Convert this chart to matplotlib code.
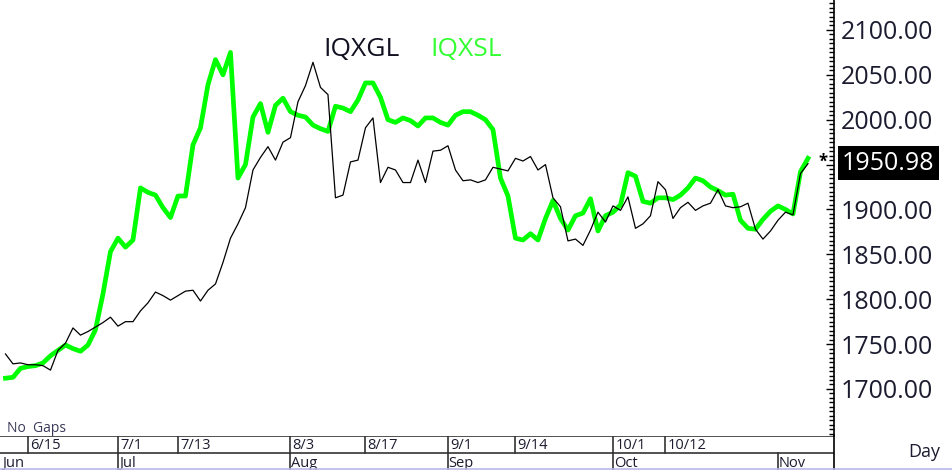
import numpy as np
import pandas as pd
import matplotlib
matplotlib.use("Agg")
import matplotlib.pyplot as plt
from matplotlib.ticker import MultipleLocator, FuncFormatter
from matplotlib.patches import Rectangle

# weekday index, no gaps
dates = pd.bdate_range("2020-06-10", "2020-11-06")

iqxgl = [1739, 1728, 1729, 1727, 1727, 1726, 1721, 1743, 1751, 1768,
         1760, 1764, 1769, 1774, 1780, 1770, 1775, 1775, 1787, 1796,
         1808, 1804, 1799, 1804, 1809, 1810, 1798, 1810, 1817, 1841,
         1868, 1884, 1902, 1944, 1958, 1970, 1955, 1975, 1980, 2020,
         2038, 2064, 2036, 2028, 1913, 1916, 1953, 1955, 1991, 2002,
         1930, 1947, 1944, 1930, 1930, 1955, 1930, 1965, 1966, 1971,
         1944, 1932, 1933, 1930, 1933, 1947, 1945, 1943, 1957, 1954,
         1959, 1944, 1950, 1913, 1903, 1865, 1867, 1860, 1877, 1897,
         1886, 1904, 1899, 1914, 1879, 1884, 1893, 1931, 1922, 1890,
         1902, 1908, 1899, 1904, 1907, 1922, 1904, 1902, 1903, 1907,
         1878, 1867, 1876, 1888, 1897, 1894, 1940, 1950.98]

iqxsl = [1712, 1713, 1723, 1725, 1726, 1729, 1737, 1743, 1749, 1745,
         1742, 1749, 1766, 1806, 1853, 1868, 1858, 1866, 1924, 1919,
         1916, 1902, 1891, 1915, 1915, 1972, 1991, 2039, 2067, 2050,
         2075, 1935, 1950, 2003, 2018, 1986, 2016, 2024, 2009, 2005,
         2003, 1994, 1990, 1987, 2015, 2013, 2009, 2022, 2041, 2041,
         2025, 2000, 1997, 2002, 1999, 1993, 2002, 2002, 1997, 1994,
         2005, 2009, 2009, 2005, 2000, 1989, 1935, 1915, 1868, 1866,
         1873, 1866, 1890, 1910, 1890, 1877, 1893, 1896, 1912, 1876,
         1893, 1897, 1905, 1941, 1937, 1909, 1907, 1913, 1913, 1911,
         1916, 1924, 1935, 1932, 1925, 1921, 1916, 1917, 1888, 1879,
         1878, 1889, 1898, 1904, 1900, 1895, 1942, 1957]

day_labels = ["6/15", "7/1", "7/13", "8/3", "8/17", "9/1", "9/14", "10/1", "10/12"]
month_labels = ["Jun", "Jul", "Aug", "Sep", "Oct", "Nov"]
y_ticks = [1700, 1750, 1800, 1850, 1900, 1950, 2000, 2050, 2100]

plt.rcParams["font.family"] = ["Open Sans", "DejaVu Sans"]
txt_col = "#1c1c30"

W, H = 953, 470
fig = plt.figure(figsize=(W / 100, H / 100), dpi=100)
fig.patch.set_facecolor("white")

ax_r = 834 / W
ax = fig.add_axes([0, 34 / H, ax_r, 436 / H])
x = np.arange(len(dates))
ax.plot(x, iqxsl, color="#00ff00", lw=3.4, solid_joinstyle="round", zorder=2)
ax.plot(x, iqxgl, color="black", lw=0.9, zorder=3)
ax.set_xlim(-0.73, 110.47)
ax.set_ylim(1647.6, 2133.4)

for s in ["left", "top", "bottom"]:
    ax.spines[s].set_visible(False)
ax.spines["right"].set_linewidth(1.2)
ax.set_xticks([])
ax.yaxis.tick_right()
ax.set_yticks(y_ticks)
ax.yaxis.set_minor_locator(MultipleLocator(5))
ax.yaxis.set_major_formatter(FuncFormatter(lambda v, p: "" if v == 1950 else f"{v:.2f}"))
ax.tick_params(axis="y", which="major", direction="in", length=6, width=1,
               labelsize=18, pad=5, labelcolor=txt_col)
ax.tick_params(axis="y", which="minor", direction="in", length=3.5, width=1)

# last value
last = iqxgl[-1]
ax.text(len(dates) + 1, last + 2, "*", fontsize=12, fontweight="bold",
        color="black", ha="center", va="center")
ly = 1 - 163 / H
fig.patches.append(Rectangle((838 / W, 1 - 180 / H), 101 / W, 34 / H,
                             transform=fig.transFigure, facecolor="black",
                             edgecolor="none", zorder=5))
fig.text(842 / W, ly, f"{last:.2f}", color="white", fontsize=18, va="center",
         ha="left", zorder=6)

# legend
fig.text(323 / W, 1 - 56 / H, "IQXGL", fontsize=19, color="#111122", va="baseline")
fig.text(430 / W, 1 - 56 / H, "IQXSL", fontsize=19, color="#33ff33", va="baseline")

fig.text(7 / W, 1 - 432 / H, "No  Gaps", fontsize=10, color="#3a3a5a", va="baseline")
fig.text(924 / W, 1 - 452 / H, "Day", fontsize=13, color=txt_col, ha="center", va="center")

# date axis below the plot
dx = fig.add_axes([0, 0, ax_r, 34 / H], sharex=ax)
dx.set_ylim(0, 2)
dx.axis("off")
dx.axhline(2, color="#333333", lw=1.2)
dx.axhline(1, color="#333333", lw=1.2)
fig.add_artist(plt.Line2D([ax_r, ax_r], [0, 34 / H], color="black", lw=1.2))

fmt = [f"{d.month}/{d.day}" for d in dates]
for lab in day_labels:
    i = fmt.index(lab)
    dx.plot([i, i], [1, 2], color="#333333", lw=1.2)
    dx.text(i + 0.3, 1.02, lab, fontsize=10.5, color=txt_col, va="bottom", ha="left")

mon = [d.strftime("%b") for d in dates]
for lab in month_labels:
    i = mon.index(lab)
    if i > 0:
        dx.plot([i, i], [0, 1], color="#333333", lw=1.2)
        dx.text(i + 0.1, -0.05, lab, fontsize=10.5, color=txt_col, va="bottom", ha="left")
    else:
        dx.text(-0.5, -0.05, lab, fontsize=10.5, color=txt_col, va="bottom", ha="left")

fig.add_artist(plt.Line2D([0, 1], [0.6 / H, 0.6 / H], color="#b8b8e8", lw=1.2))

fig.savefig("out.png", dpi=100)
